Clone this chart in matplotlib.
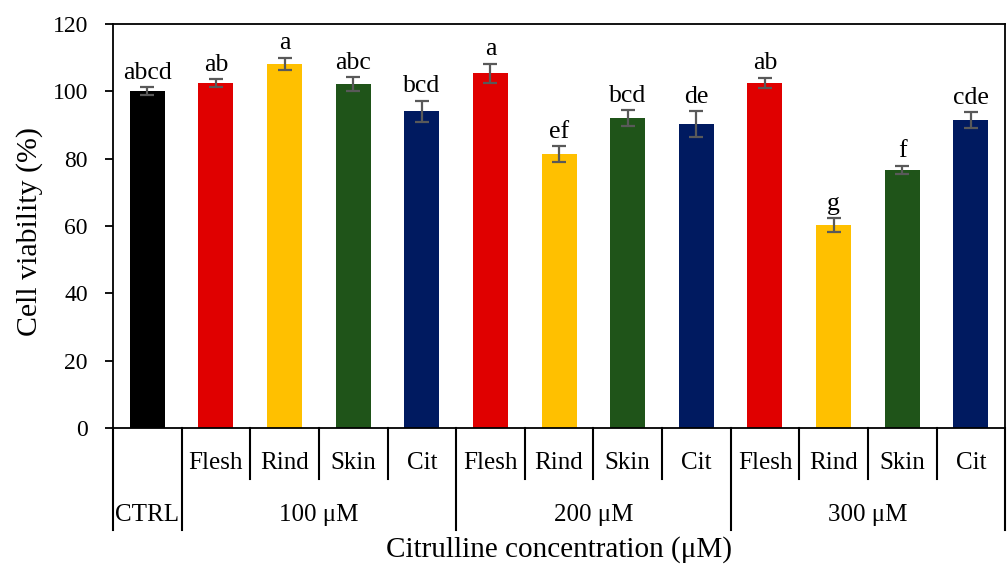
# cell viability bar chart with two-level category axis

import matplotlib
matplotlib.use('Agg')
import matplotlib.pyplot as plt
from matplotlib import rcParams

rcParams['font.family'] = ['Liberation Serif', 'DejaVu Serif']
rcParams['font.size'] = 17

# data
groups = ['CTRL', '100 μM', '200 μM', '300 μM']
group_sizes = [1, 4, 4, 4]
parts = ['', 'Flesh', 'Rind', 'Skin', 'Cit',
         'Flesh', 'Rind', 'Skin', 'Cit',
         'Flesh', 'Rind', 'Skin', 'Cit']
viability = [100.1, 102.5, 108.1, 102.2, 94.1,
             105.4, 81.4, 92.1, 90.3,
             102.5, 60.3, 76.6, 91.5]
errors = [1.2, 1.2, 1.9, 2.1, 3.1,
          2.8, 2.4, 2.4, 3.8,
          1.6, 2.1, 1.3, 2.4]
letters = ['abcd', 'ab', 'a', 'abc', 'bcd',
           'a', 'ef', 'bcd', 'de',
           'ab', 'g', 'f', 'cde']

part_colors = {
    '': '#000000',
    'Flesh': '#E00000',
    'Rind': '#FFC000',
    'Skin': '#1F5419',
    'Cit': '#001A60',
}

fig = plt.figure(figsize=(10.07, 5.69), dpi=100)
ax = fig.add_axes([0.1122, 0.2478, 0.886, 0.71])

n = len(viability)
xs = [i + 0.5 for i in range(n)]
ax.bar(xs, viability, width=0.51, color=[part_colors[p] for p in parts], zorder=2)
ax.errorbar(xs, viability, yerr=errors, fmt='none', ecolor='#595959',
            elinewidth=1.6, capsize=5, capthick=1.6, zorder=3)

for x, v, e, lab in zip(xs, viability, errors, letters):
    ax.annotate(lab, (x, v + e), xytext=(0, 6), textcoords='offset points',
                ha='center', va='baseline', fontsize=18.5)

ax.set_xlim(0, n)
ax.set_ylim(0, 120)
ax.set_yticks(range(0, 121, 20))
ax.set_xticks([])
ax.tick_params(axis='y', direction='out', length=6, width=1.3, pad=12, labelsize=17)
for s in ax.spines.values():
    s.set_linewidth(1.3)
    s.set_color('black')

# two-level category axis below the plot
tr = ax.get_xaxis_transform()
row1 = -0.126
row2 = -0.2525
lw = 1.5

# dividers between sub categories (short) and between groups (long)
start = 0
bounds = [0]
for size in group_sizes:
    for k in range(1, size):
        ax.plot([start + k, start + k], [0, row1], transform=tr,
                color='black', lw=lw, clip_on=False)
    start += size
    bounds.append(start)
for b in bounds:
    ax.plot([b, b], [0, row2], transform=tr, color='black', lw=lw, clip_on=False)

for x, p in zip(xs, parts):
    if p:
        ax.text(x, -0.087, p, transform=tr, ha='center', va='center', fontsize=18)

for i, g in enumerate(groups):
    mid = (bounds[i] + bounds[i + 1]) / 2
    ax.text(mid, -0.215, g, transform=tr, ha='center', va='center', fontsize=18)

ax.text(n / 2, -0.30, 'Citrulline concentration (μM)', transform=tr,
        ha='center', va='center', fontsize=21)
fig.text(30 / 1007, 1 - 231 / 569, 'Cell viability (%)', rotation=90,
         ha='center', va='center', fontsize=21.5)

fig.savefig('out.png', dpi=100)
